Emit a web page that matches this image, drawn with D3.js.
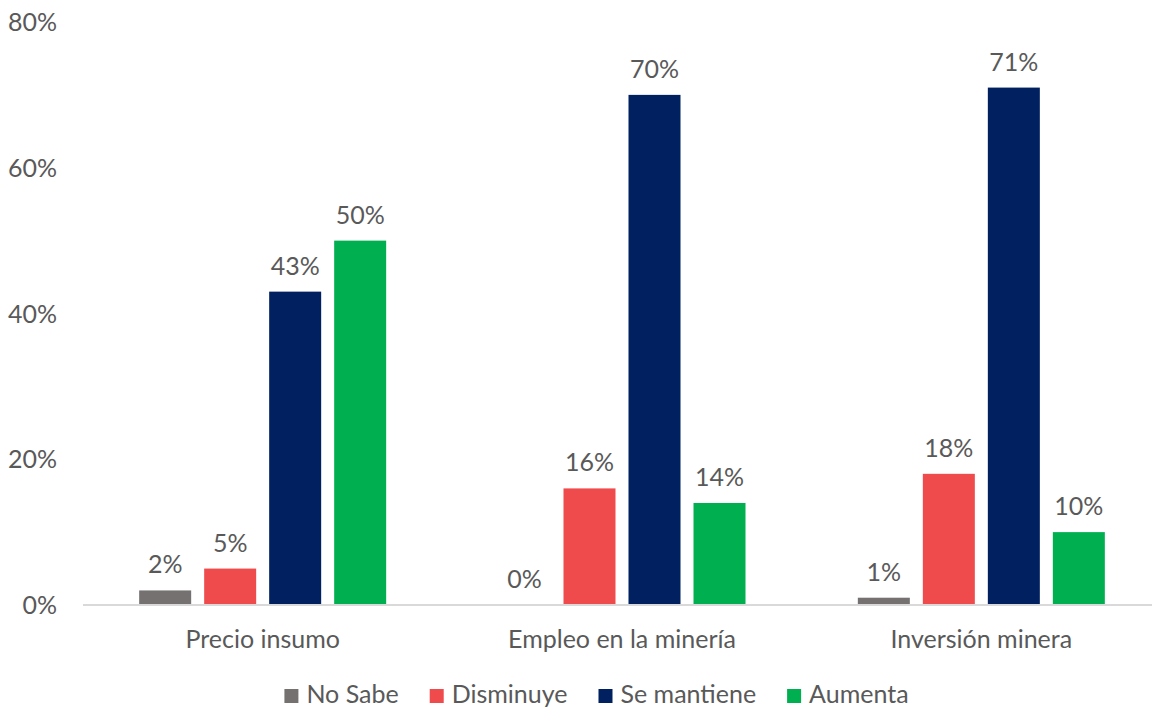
<!DOCTYPE html>
<html>
<head>
<meta charset="utf-8">
<script src="https://cdn.jsdelivr.net/npm/d3@7"></script>
<style>
  html, body { margin: 0; padding: 0; background: #fff; }
  svg { display: block; }
  text { font-family: Lato, "Open Sans", sans-serif; fill: #595959; }
</style>
</head>
<body>
<svg id="chart" width="1152" height="709"></svg>
<script>
const categories = ["Precio insumo", "Empleo en la minería", "Inversión minera"];
const series = ["No Sabe", "Disminuye", "Se mantiene", "Aumenta"];
const noSabe = [2, 0, 1];
const disminuye = [5, 16, 18];
const seMantiene = [43, 70, 71];
const aumenta = [50, 14, 10];
const yTicks = [0, 20, 40, 60, 80];
const colors = ["#767171", "#F04B4C", "#002060", "#00B050"];

const values = [noSabe, disminuye, seMantiene, aumenta];

const svg = d3.select("#chart");
const fontSize = 25;

const y = d3.scaleLinear().domain([0, 80]).range([605, 22]);
const x0 = d3.scaleBand().domain(categories).range([83, 1161]).padding(0);
const groupW = 4 * 65 - 13;
const x1 = d3.scaleBand().domain(series).range([-groupW / 2, groupW / 2]).paddingInner(0.2).paddingOuter(0);
const color = d3.scaleOrdinal().domain(series).range(colors);

// y tick labels
svg.append("g").selectAll("text").data(yTicks).join("text")
  .attr("x", 57).attr("y", d => y(d))
  .attr("dy", "0.36em")
  .attr("text-anchor", "end")
  .style("font-size", fontSize + "px")
  .text(d => d + "%");

// bars
const data = [];
categories.forEach((c, ci) => {
  series.forEach((s, si) => data.push({ c, s, v: values[si][ci] }));
});

const gx = c => x0(c) + x0.bandwidth() / 2;

svg.append("g").selectAll("rect").data(data).join("rect")
  .attr("x", d => gx(d.c) + x1(d.s))
  .attr("width", x1.bandwidth())
  .attr("y", d => y(d.v))
  .attr("height", d => y(0) - y(d.v))
  .attr("fill", d => color(d.s));

// axis line
svg.append("line")
  .attr("x1", x0.range()[0]).attr("x2", x0.range()[1])
  .attr("y1", y(0)).attr("y2", y(0))
  .attr("stroke", "#D9D9D9").attr("stroke-width", 2);

// value labels
svg.append("g").selectAll("text").data(data).join("text")
  .attr("x", d => gx(d.c) + x1(d.s) + x1.bandwidth() / 2)
  .attr("y", d => y(d.v) - 17)
  .attr("text-anchor", "middle")
  .style("font-size", fontSize + "px")
  .text(d => d.v + "%");

// category labels
svg.append("g").selectAll("text").data(categories).join("text")
  .attr("x", d => gx(d))
  .attr("y", 648)
  .attr("text-anchor", "middle")
  .style("font-size", fontSize + "px")
  .text(d => d);

// legend
const lg = svg.append("g");
const items = lg.selectAll("g").data(series).join("g");
items.append("rect").attr("width", 14).attr("height", 14).attr("y", 689).attr("fill", d => color(d));
items.append("text").attr("x", 22).attr("y", 703).style("font-size", fontSize + "px").text(d => d);
let cx = 0;
items.each(function () {
  const g = d3.select(this);
  const w = 22 + g.select("text").node().getComputedTextLength();
  g.attr("transform", `translate(${cx},0)`);
  cx += w + 31;
});
const total = cx - 31;
lg.attr("transform", `translate(${596.5 - total / 2},0)`);
</script>
</body>
</html>
